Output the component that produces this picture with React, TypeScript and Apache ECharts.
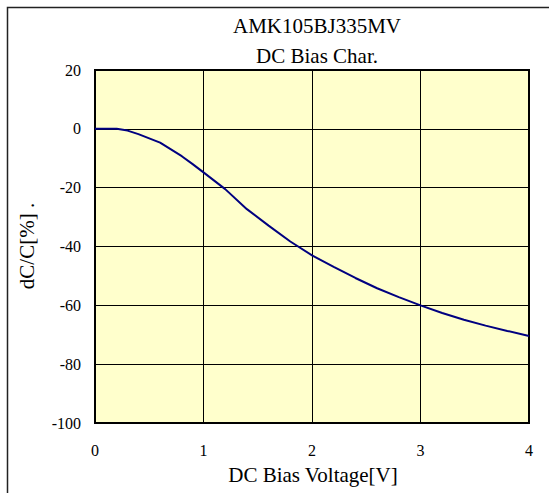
import React, { useEffect, useRef } from "react";
import * as echarts from "echarts";

const titleLines = ["AMK105BJ335MV", "DC Bias Char."];
const xAxisName = "DC Bias Voltage[V]";
const yAxisName = "dC/C[%] .";
const voltage = [0, 0.2, 0.3, 0.4, 0.6, 0.8, 0.9, 1.0, 1.2, 1.4, 1.6, 1.8, 2.0, 2.2, 2.4, 2.6, 2.8, 3.0, 3.2, 3.4, 3.6, 3.8, 4.0];
const capChange = [0, 0, -0.6, -1.8, -4.7, -9.3, -12, -14.8, -20.5, -27.3, -32.9, -38.3, -43, -46.9, -50.7, -54.2, -57.2, -60, -62.6, -64.9, -66.9, -68.7, -70.4];

const FONT = "Liberation Serif";

export default function App() {
  const ref = useRef<HTMLDivElement>(null);
  useEffect(() => {
    if (!ref.current) return;
    const chart = echarts.init(ref.current, null, { renderer: "svg" });
    const data = voltage.map((v, i) => [v, capChange[i]]);
    const textStyle = (text: string) => ({
      text,
      fontFamily: FONT,
      fontSize: 21,
      fill: "#000",
      align: "center",
      verticalAlign: "middle",
    });
    chart.setOption({
      animation: false,
      backgroundColor: "#ffffff",
      textStyle: { fontFamily: FONT },
      grid: {
        left: 95,
        top: 70,
        width: 434,
        height: 353,
        show: true,
        backgroundColor: "#FFFFCC",
        borderColor: "#000000",
        borderWidth: 2,
        containLabel: false,
      },
      xAxis: {
        type: "value",
        min: 0,
        max: 4,
        interval: 1,
        axisLine: { show: false },
        axisTick: { show: false },
        axisLabel: { color: "#000000", fontFamily: FONT, fontSize: 16, margin: 19 },
        splitLine: { show: true, lineStyle: { color: "#000", width: 1 } },
      },
      yAxis: {
        type: "value",
        min: -100,
        max: 20,
        interval: 20,
        axisLine: { show: false },
        axisTick: { show: false },
        axisLabel: { color: "#000000", fontFamily: FONT, fontSize: 16, margin: 14 },
        splitLine: { show: true, lineStyle: { color: "#000", width: 1 } },
      },
      series: [
        {
          type: "line",
          data,
          showSymbol: false,
          smooth: false,
          lineStyle: { color: "#000080", width: 2 },
          z: 5,
        },
      ],
      graphic: [
        {
          type: "rect",
          shape: { x: 7.5, y: 7.5, width: 600, height: 600 },
          style: { fill: "none", stroke: "#222", lineWidth: 1.5 },
          silent: true,
        },
        { type: "text", x: 317, y: 26, style: textStyle(titleLines[0]) },
        { type: "text", x: 317, y: 56, style: textStyle(titleLines[1]) },
        { type: "text", x: 313, y: 475, style: textStyle(xAxisName) },
        { type: "text", x: 27, y: 246, rotation: Math.PI / 2, style: textStyle(yAxisName) },
      ],
    });
    return () => chart.dispose();
  }, []);
  return (
    <div
      ref={ref}
      style={{ position: "fixed", left: 0, top: 0, width: 549, height: 493 }}
    />
  );
}
